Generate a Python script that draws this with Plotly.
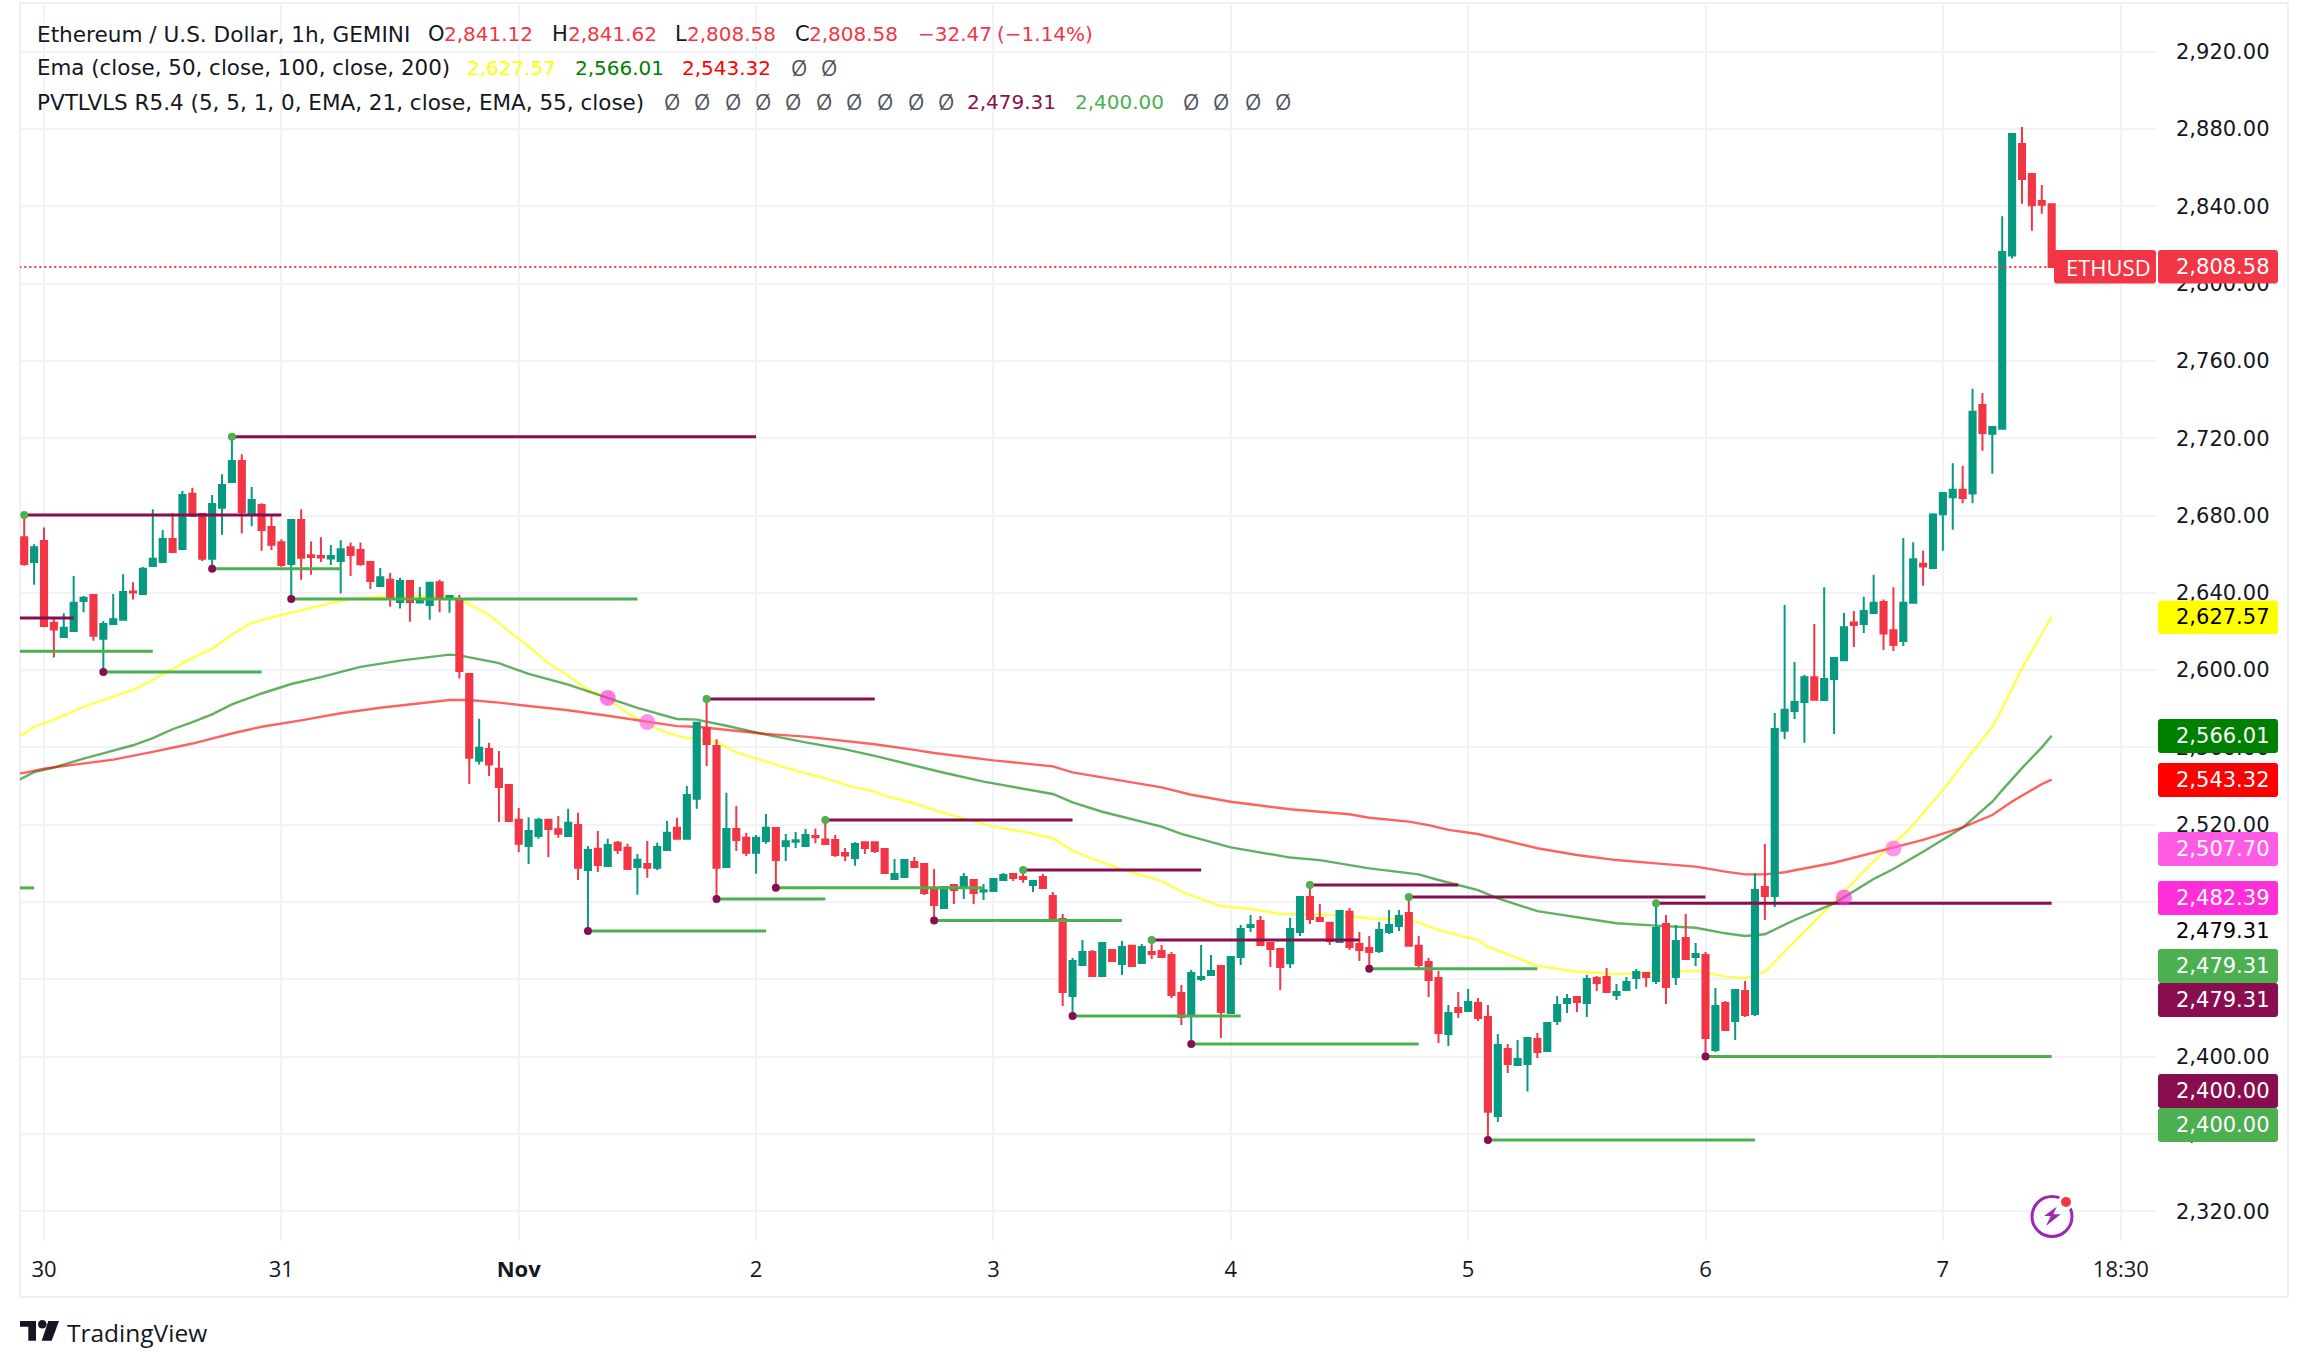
import pandas as pd
import plotly.graph_objects as go

W, H = 2308, 1367
PLOT_L, PLOT_R, PLOT_T, PLOT_B = 20, 2156, 5, 1241

# hourly bars, first one is 29 Oct 22:00, last one 7 Nov 11:00
opens = [
    2668.8, 2655.9, 2666.8, 2624.5, 2617.1, 2620.2, 2635.7, 2638.9, 2616.2, 2623.9,
    2626.0, 2640.7, 2639.4, 2653.9, 2655.9, 2667.9, 2662.7, 2691.2, 2680.8, 2657.6,
    2684.0, 2697.3, 2708.2, 2680.3, 2685.5, 2674.0, 2666.2, 2654.9, 2677.7, 2659.4,
    2659.0, 2657.7, 2656.4, 2663.6, 2662.2, 2655.9, 2643.5, 2646.7, 2635.2, 2646.1,
    2635.0, 2633.7, 2645.5, 2637.6, 2636.8, 2598.0, 2553.1, 2559.2, 2548.9, 2540.6,
    2522.5, 2509.0, 2514.1, 2522.5, 2517.7, 2514.1, 2519.9, 2496.6, 2507.5, 2498.6,
    2510.6, 2508.1, 2498.1, 2499.7, 2497.7, 2506.9, 2518.4, 2512.7, 2533.4, 2570.1,
    2560.7, 2498.1, 2517.8, 2513.2, 2505.5, 2511.6, 2518.3, 2509.0, 2511.2, 2509.0,
    2514.2, 2512.4, 2512.1, 2505.4, 2502.8, 2510.9, 2510.9, 2507.4, 2491.9, 2493.0,
    2500.7, 2499.7, 2487.3, 2476.9, 2488.8, 2488.3, 2491.4, 2485.4, 2485.7, 2491.4,
    2494.5, 2493.0, 2488.8, 2493.0, 2483.1, 2471.2, 2431.4, 2447.4, 2454.1, 2441.7,
    2455.2, 2447.9, 2457.3, 2448.5, 2454.1, 2454.7, 2452.6, 2432.9, 2422.1, 2440.2,
    2442.2, 2446.9, 2422.6, 2451.6, 2467.1, 2470.2, 2458.8, 2455.7, 2448.3, 2464.5,
    2482.6, 2471.7, 2469.2, 2459.3, 2474.9, 2458.3, 2456.2, 2454.7, 2464.5, 2467.6,
    2474.3, 2457.3, 2449.0, 2440.7, 2411.7, 2425.2, 2423.6, 2427.8, 2420.5, 2369.3,
    2403.9, 2395.7, 2396.2, 2409.1, 2402.9, 2418.4, 2427.8, 2430.9, 2427.8, 2440.7,
    2441.2, 2431.9, 2434.5, 2440.7, 2443.3, 2439.1, 2468.6, 2441.2, 2461.4, 2451.6,
    2452.6, 2403.4, 2427.8, 2418.4, 2434.0, 2422.1, 2487.8, 2483.1, 2568.6, 2578.8,
    2583.5, 2596.3, 2584.5, 2595.4, 2605.1, 2624.6, 2623.9, 2629.6, 2635.3, 2620.6,
    2615.1, 2634.8, 2655.0, 2652.9, 2680.7, 2689.5, 2693.3, 2691.4, 2737.2, 2722.3,
    2724.9, 2814.5, 2872.2, 2856.7, 2842.7, 2841.12,
]
highs = [
    2680.3, 2665.1, 2673.8, 2627.2, 2629.4, 2648.7, 2638.3, 2639.4, 2625.4, 2639.4,
    2649.6, 2645.5, 2653.3, 2683.2, 2672.5, 2681.2, 2692.7, 2694.3, 2681.2, 2690.6,
    2701.3, 2720.8, 2711.7, 2694.7, 2686.4, 2680.6, 2667.7, 2678.0, 2683.2, 2666.6,
    2668.8, 2664.8, 2667.2, 2666.0, 2666.0, 2655.9, 2652.9, 2650.3, 2647.8, 2646.1,
    2643.0, 2645.5, 2646.7, 2638.9, 2638.9, 2598.0, 2574.8, 2562.4, 2558.1, 2540.6,
    2528.7, 2523.9, 2523.6, 2522.5, 2524.5, 2528.2, 2526.2, 2509.0, 2516.7, 2512.7,
    2511.6, 2510.1, 2504.9, 2511.6, 2510.6, 2521.9, 2523.6, 2540.0, 2572.7, 2585.1,
    2564.2, 2536.5, 2529.7, 2515.8, 2514.7, 2525.6, 2518.3, 2515.2, 2516.2, 2517.8,
    2518.1, 2522.5, 2514.7, 2508.0, 2510.9, 2510.9, 2510.9, 2507.4, 2502.3, 2501.7,
    2503.3, 2499.7, 2497.1, 2488.3, 2489.3, 2495.0, 2491.9, 2489.3, 2492.4, 2495.0,
    2494.5, 2496.6, 2491.4, 2494.5, 2485.2, 2473.8, 2451.0, 2460.4, 2455.2, 2459.3,
    2455.2, 2459.8, 2457.8, 2458.3, 2460.4, 2457.8, 2454.1, 2437.1, 2444.8, 2457.8,
    2452.6, 2447.4, 2452.1, 2468.1, 2473.3, 2472.8, 2459.3, 2455.7, 2471.7, 2482.6,
    2488.8, 2479.0, 2469.2, 2475.4, 2476.9, 2464.5, 2462.4, 2469.7, 2475.9, 2475.9,
    2482.6, 2462.4, 2451.0, 2444.3, 2426.7, 2433.4, 2435.0, 2430.3, 2426.7, 2411.7,
    2406.5, 2408.6, 2409.6, 2412.2, 2417.9, 2431.4, 2432.4, 2430.9, 2442.2, 2441.7,
    2445.9, 2437.6, 2441.2, 2445.3, 2443.3, 2479.31, 2473.3, 2468.1, 2473.8, 2458.8,
    2454.1, 2435.5, 2428.8, 2434.5, 2439.1, 2495.0, 2510.0, 2577.8, 2633.7, 2604.2,
    2597.5, 2623.9, 2642.9, 2606.8, 2629.6, 2630.6, 2637.9, 2649.3, 2636.5, 2642.9,
    2668.3, 2666.2, 2661.7, 2681.2, 2691.6, 2707.1, 2705.6, 2745.6, 2743.4, 2725.8,
    2834.9, 2877.7, 2881.0, 2856.7, 2851.0, 2841.62,
]
lows = [
    2654.0, 2644.2, 2622.2, 2606.5, 2616.9, 2620.2, 2630.0, 2615.2, 2599.0, 2623.9,
    2626.0, 2636.5, 2639.4, 2653.9, 2655.9, 2661.1, 2662.7, 2679.2, 2656.4, 2652.4,
    2670.1, 2697.3, 2670.7, 2674.5, 2661.8, 2662.2, 2653.5, 2636.8, 2646.8, 2649.4,
    2655.9, 2654.4, 2639.6, 2648.7, 2654.0, 2642.0, 2643.0, 2632.8, 2631.9, 2625.0,
    2635.0, 2626.0, 2630.0, 2629.7, 2595.6, 2541.1, 2551.1, 2545.2, 2521.4, 2521.4,
    2505.8, 2499.7, 2512.7, 2503.2, 2513.2, 2514.1, 2491.4, 2465.0, 2495.5, 2498.6,
    2504.9, 2497.1, 2483.7, 2492.5, 2496.6, 2506.9, 2512.7, 2512.7, 2528.2, 2550.4,
    2481.6, 2498.1, 2506.4, 2503.8, 2494.6, 2510.1, 2487.4, 2501.2, 2508.0, 2509.0,
    2510.4, 2510.0, 2503.3, 2501.2, 2498.7, 2504.9, 2505.4, 2495.0, 2491.4, 2493.0,
    2498.1, 2483.6, 2470.4, 2476.4, 2479.0, 2481.6, 2479.0, 2481.1, 2485.7, 2491.4,
    2490.9, 2489.9, 2485.2, 2487.3, 2471.2, 2426.2, 2421.0, 2447.4, 2441.7, 2441.7,
    2449.5, 2442.2, 2446.9, 2448.5, 2450.5, 2451.6, 2430.3, 2416.4, 2406.5, 2439.1,
    2442.2, 2409.6, 2422.6, 2447.4, 2464.5, 2457.3, 2446.4, 2434.5, 2445.9, 2462.4,
    2468.6, 2470.2, 2457.8, 2459.3, 2455.2, 2449.5, 2445.4, 2453.6, 2463.5, 2465.0,
    2457.3, 2445.9, 2430.9, 2407.1, 2405.5, 2420.0, 2423.6, 2418.4, 2356.9, 2366.2,
    2391.5, 2395.7, 2381.9, 2399.3, 2402.9, 2416.4, 2422.6, 2423.1, 2420.5, 2434.0,
    2433.4, 2429.3, 2434.5, 2435.0, 2436.0, 2437.6, 2427.2, 2437.1, 2450.5, 2446.9,
    2400.0, 2402.4, 2413.8, 2408.6, 2420.5, 2421.0, 2470.7, 2477.4, 2564.3, 2574.7,
    2562.4, 2584.7, 2584.5, 2566.9, 2604.7, 2612.0, 2619.2, 2629.6, 2610.4, 2609.9,
    2612.5, 2634.8, 2643.6, 2652.9, 2661.7, 2672.6, 2686.4, 2686.4, 2713.5, 2701.6,
    2724.9, 2813.0, 2841.3, 2827.3, 2836.1, 2808.58,
]
closes = [
    2654.9, 2663.6, 2622.8, 2621.0, 2621.9, 2634.8, 2637.4, 2617.8, 2623.9, 2626.3,
    2640.4, 2640.2, 2652.4, 2657.6, 2667.9, 2661.1, 2690.6, 2679.9, 2657.6, 2686.0,
    2695.8, 2708.2, 2681.8, 2688.0, 2672.5, 2664.9, 2654.4, 2677.7, 2658.1, 2658.5,
    2658.3, 2659.0, 2662.5, 2659.6, 2654.9, 2646.1, 2648.1, 2637.8, 2646.1, 2635.2,
    2635.7, 2645.2, 2637.4, 2638.3, 2599.5, 2554.6, 2559.8, 2551.1, 2539.5, 2521.9,
    2510.1, 2516.7, 2522.5, 2517.8, 2515.3, 2521.0, 2497.7, 2506.9, 2499.2, 2509.5,
    2506.9, 2497.1, 2501.8, 2497.7, 2508.4, 2515.8, 2512.7, 2535.4, 2572.7, 2561.8,
    2497.7, 2517.8, 2512.1, 2505.5, 2513.2, 2518.4, 2501.7, 2511.4, 2511.9, 2514.7,
    2513.5, 2510.0, 2504.3, 2504.0, 2510.0, 2508.0, 2506.4, 2495.0, 2494.5, 2501.7,
    2498.1, 2484.7, 2478.5, 2487.8, 2486.2, 2493.0, 2484.7, 2486.1, 2491.9, 2494.0,
    2492.4, 2491.9, 2490.9, 2487.3, 2471.2, 2433.4, 2449.5, 2454.1, 2441.7, 2458.8,
    2449.5, 2456.7, 2446.9, 2456.7, 2453.1, 2451.6, 2431.9, 2420.5, 2443.3, 2441.2,
    2444.3, 2423.1, 2451.6, 2466.0, 2468.1, 2457.8, 2455.7, 2446.4, 2466.0, 2482.6,
    2471.2, 2470.2, 2459.8, 2475.4, 2456.7, 2455.2, 2454.1, 2465.5, 2468.1, 2472.8,
    2457.3, 2447.4, 2439.7, 2412.2, 2422.6, 2423.1, 2428.3, 2420.0, 2371.4, 2406.0,
    2396.2, 2398.8, 2409.6, 2402.4, 2417.4, 2426.7, 2429.8, 2428.3, 2440.2, 2438.1,
    2433.4, 2433.4, 2438.6, 2443.8, 2441.2, 2466.6, 2436.0, 2459.8, 2450.5, 2453.1,
    2409.6, 2426.2, 2413.8, 2434.5, 2421.5, 2486.2, 2483.1, 2569.5, 2579.5, 2583.5,
    2596.3, 2584.7, 2595.4, 2606.3, 2622.2, 2623.4, 2630.6, 2634.8, 2618.9, 2613.0,
    2634.8, 2657.4, 2653.6, 2680.5, 2691.6, 2693.3, 2689.0, 2733.7, 2722.7, 2725.8,
    2816.4, 2877.4, 2854.1, 2840.6, 2840.8, 2808.58,
]

# moving averages, hour offsets counted from 30 Oct 00:00
ema50_hours = [-3, -2, -1, 1, 4, 7, 9, 11, 13, 15, 17, 19, 21, 24, 28, 31, 35, 41, 42, 45, 47, 49, 51, 53, 55,
               57, 59, 61, 63, 65, 66, 68, 70, 73, 76, 79, 82, 84, 85, 88, 90, 93, 96, 99, 102, 104, 106,
               109, 113, 115, 119, 122, 125, 128, 132, 134, 137, 139, 141, 145, 146, 151, 155, 159, 163,
               167, 170, 172, 174, 176, 178, 181, 183, 185, 187, 188, 189, 190, 191, 192, 194, 197, 198,
               200, 202, 203]
ema50 = [2564.5, 2567.2, 2570.7, 2574.4, 2581.0, 2586.4, 2589.7, 2594.9, 2600.8, 2606.3, 2611.0, 2618.4, 2624.4,
         2628.5, 2633.5, 2636.8, 2638.5, 2638.5, 2636.8, 2628.5, 2620.2, 2612.2, 2603.6, 2597.1, 2589.7,
         2585.6, 2577.7, 2572.2, 2567.5, 2564.8, 2564.6, 2562.9, 2557.4, 2552.7, 2548.0, 2544.0, 2539.3,
         2537.1, 2534.9, 2531.1, 2527.6, 2523.3, 2519.0, 2516.4, 2513.0, 2506.6, 2502.3, 2496.9, 2490.9,
         2485.3, 2477.9, 2476.4, 2473.8, 2473.6, 2472.9, 2471.5, 2471.2, 2469.5, 2465.5, 2460.3, 2456.9,
         2447.0, 2443.9, 2442.7, 2443.6, 2444.6, 2441.4, 2440.5, 2443.9, 2454.3, 2464.7, 2480.2, 2490.5,
         2500.9, 2510.4, 2514.7, 2520.0, 2526.0, 2532.0, 2537.9, 2551.2, 2570.7, 2580.2, 2600.9, 2618.7,
         2627.57]
ema100_hours = [-3, -2, -1, 1, 4, 7, 9, 11, 13, 15, 17, 19, 22, 25, 28, 32, 36, 41, 42, 46, 49, 53, 57, 60, 64,
                66, 69, 73, 77, 81, 84, 87, 91, 95, 98, 102, 104, 107, 113, 115, 120, 126, 129, 134, 139,
                141, 145, 147, 151, 155, 159, 163, 167, 170, 172, 174, 177, 181, 185, 187, 190, 194, 197,
                198, 200, 202, 203]
ema100 = [2542.0, 2544.4, 2547.2, 2549.6, 2554.2, 2558.3, 2561.1, 2564.8, 2569.4, 2573.1, 2577.1, 2582.3, 2587.9,
          2592.8, 2596.4, 2601.7, 2604.9, 2608.0, 2607.6, 2603.6, 2598.0, 2592.5, 2585.6, 2580.5, 2574.7,
          2574.4, 2571.2, 2566.6, 2562.6, 2559.0, 2555.6, 2551.8, 2546.9, 2542.3, 2539.7, 2535.9, 2531.6,
          2526.7, 2519.0, 2515.2, 2508.3, 2503.0, 2501.7, 2497.4, 2494.3, 2491.4, 2486.2, 2481.9, 2475.3,
          2472.1, 2469.0, 2467.8, 2466.7, 2463.8, 2462.4, 2463.3, 2470.7, 2479.3, 2491.9, 2497.1, 2506.0,
          2518.5, 2531.9, 2537.9, 2549.3, 2560.0, 2566.01]
ema200_hours = [-3, -2, 0, 4, 7, 11, 15, 19, 22, 26, 30, 34, 38, 41, 43, 46, 49, 53, 57, 61, 64, 66, 69, 73, 77,
                84, 88, 90, 96, 102, 104, 108, 113, 116, 120, 126, 132, 134, 138, 140, 142, 145, 151, 155,
                159, 163, 167, 170, 172, 174, 176, 181, 185, 187, 190, 194, 197, 199, 200, 202, 203]
ema200 = [2546.2, 2546.8, 2549.0, 2551.8, 2553.7, 2557.7, 2562.0, 2567.2, 2570.7, 2574.0, 2577.7, 2580.5, 2582.7,
          2584.5, 2584.5, 2583.2, 2581.4, 2579.2, 2576.4, 2573.1, 2571.0, 2570.7, 2569.0, 2567.0, 2565.6,
          2561.6, 2558.7, 2557.1, 2553.3, 2550.2, 2547.1, 2543.5, 2539.3, 2535.5, 2531.9, 2528.0, 2525.4,
          2523.6, 2521.6, 2519.8, 2517.3, 2515.2, 2507.8, 2504.3, 2501.7, 2500.0, 2498.3, 2495.7, 2494.3,
          2494.3, 2495.4, 2500.3, 2505.7, 2508.1, 2512.1, 2518.6, 2525.0, 2532.0, 2535.0, 2541.0, 2543.32]

# pivot levels
pivot_high_start = [-3, -2, 19, 67, 79, 99, 112, 128, 138, 163]
pivot_high_end = [3, 24, 72, 84, 104, 117, 133, 143, 168, 203]
pivot_high_level = [2627.0, 2680.3, 2720.8, 2585.1, 2522.4, 2496.6, 2460.3, 2488.8, 2482.6, 2479.31]
pivot_low_start = [-3, -3, 6, 17, 25, 55, 68, 74, 90, 104, 116, 134, 146, 168]
pivot_low_end = [-1, 11, 22, 30, 60, 73, 79, 95, 109, 121, 139, 151, 173, 203]
pivot_low_level = [2487.3, 2609.8, 2599.0, 2652.4, 2636.8, 2465.0, 2481.6, 2487.4, 2470.4, 2421.0, 2406.5,
                   2445.4, 2356.9, 2400.0]

# ema crosses
cross_hours = [57, 61, 182, 187]
cross_values = [2585.6, 2573.1, 2482.39, 2507.70]
cross_colors = ["rgba(255,46,216,0.65)", "rgba(255,91,228,0.65)", "rgba(255,46,216,0.65)", "rgba(255,91,228,0.65)"]

price_ticks = [2320, 2360, 2400, 2440, 2480, 2520, 2560, 2600, 2640, 2680, 2720, 2760, 2800, 2840, 2880, 2920]
date_ticks = ["2024-10-30", "2024-10-31", "2024-11-01", "2024-11-02", "2024-11-03", "2024-11-04",
              "2024-11-05", "2024-11-06", "2024-11-07", "2024-11-07 18:00"]
date_labels = ["30", "31", "<b>Nov</b>", "2", "3", "4", "5", "6", "7", "18:30"]

T0 = pd.Timestamp("2024-10-30")
bar_times = pd.date_range("2024-10-29 22:00", periods=len(closes), freq="h")
X_RANGE = [T0 + pd.Timedelta(hours=-2.427), T0 + pd.Timedelta(hours=213.55)]
Y_RANGE = [2304.58, 2944.17]

TEXT = "#131722"
UP, DOWN = "#089981", "#f23645"
MAROON, LIME = "#880e4f", "#4caf50"
SANS = "Open Sans"
NUM = "DejaVu Sans"
EMPTY = "Ø"


def hours(values):
    return [T0 + pd.Timedelta(hours=v) for v in values]


def fx(px):
    return (px - PLOT_L) / (PLOT_R - PLOT_L)


def fy(py):
    return (PLOT_B - py) / (PLOT_B - PLOT_T)


def segments(starts, ends, levels):
    xs, ys = [], []
    for a, b, lvl in zip(starts, ends, levels):
        xs += hours([a, b]) + [None]
        ys += [lvl, lvl, None]
    return xs, ys


def poly(points):
    return "M " + " L ".join(f"{fx(x):.5f} {fy(y):.5f}" for x, y in points) + " Z"


fig = go.Figure()

# emas sit under the candles, so they stay on the base axes
for name, xs, ys, col in [
    ("EMA 50", ema50_hours, ema50, "rgba(255,255,0,0.7)"),
    ("EMA 100", ema100_hours, ema100, "rgba(0,128,0,0.62)"),
    ("EMA 200", ema200_hours, ema200, "rgba(255,0,0,0.62)"),
]:
    fig.add_trace(go.Scatter(x=hours(xs), y=ys, mode="lines", name=name, line=dict(color=col, width=2.4)))

fig.add_trace(go.Candlestick(
    x=bar_times, open=opens, high=highs, low=lows, close=closes, name="ETHUSD",
    xaxis="x2", yaxis="y2", whiskerwidth=0,
    increasing=dict(line=dict(color=UP, width=2), fillcolor=UP),
    decreasing=dict(line=dict(color=DOWN, width=2), fillcolor=DOWN),
))

# last price
fig.add_trace(go.Scatter(
    x=hours([-3, 203]), y=[closes[-1], closes[-1]], mode="lines", xaxis="x3", yaxis="y3",
    line=dict(color=DOWN, width=2, dash="2px,3px"),
))

xs, ys = segments(pivot_high_start, pivot_high_end, pivot_high_level)
fig.add_trace(go.Scatter(x=xs, y=ys, mode="lines", xaxis="x3", yaxis="y3", line=dict(color=MAROON, width=3)))
xs, ys = segments(pivot_low_start, pivot_low_end, pivot_low_level)
fig.add_trace(go.Scatter(x=xs, y=ys, mode="lines", xaxis="x3", yaxis="y3", line=dict(color=LIME, width=3)))

fig.add_trace(go.Scatter(
    x=hours(pivot_high_start[1:]), y=pivot_high_level[1:], mode="markers", xaxis="x3", yaxis="y3",
    marker=dict(color=LIME, size=8),
))
fig.add_trace(go.Scatter(
    x=hours(pivot_low_start[2:]), y=pivot_low_level[2:], mode="markers", xaxis="x3", yaxis="y3",
    marker=dict(color=MAROON, size=8),
))
fig.add_trace(go.Scatter(
    x=hours(cross_hours), y=cross_values, mode="markers", xaxis="x3", yaxis="y3",
    marker=dict(color=cross_colors, size=16),
))

shapes = [
    dict(type="rect", xref="paper", yref="paper", x0=fx(20), x1=fx(2288), y0=fy(1297), y1=fy(3),
         line=dict(color="#eff0f5", width=2), fillcolor="rgba(0,0,0,0)", layer="below"),
]
annotations = []


def add_text(px, py, text, color=TEXT, font=NUM, size=20, anchor="left"):
    annotations.append(dict(
        x=fx(px), y=fy(py), xref="paper", yref="paper", text=text, showarrow=False, xanchor=anchor,
        yanchor="middle", borderpad=0, font=dict(family=font, size=size, color=color),
    ))


def add_box(x0, x1, y0, y1, fill, r=3):
    # small rounded corners like the scale labels
    path = (f"M {fx(x0 + r):.5f} {fy(y0):.5f} L {fx(x1 - r):.5f} {fy(y0):.5f} "
            f"Q {fx(x1):.5f} {fy(y0):.5f} {fx(x1):.5f} {fy(y0 + r):.5f} "
            f"L {fx(x1):.5f} {fy(y1 - r):.5f} Q {fx(x1):.5f} {fy(y1):.5f} {fx(x1 - r):.5f} {fy(y1):.5f} "
            f"L {fx(x0 + r):.5f} {fy(y1):.5f} Q {fx(x0):.5f} {fy(y1):.5f} {fx(x0):.5f} {fy(y1 - r):.5f} "
            f"L {fx(x0):.5f} {fy(y0 + r):.5f} Q {fx(x0):.5f} {fy(y0):.5f} {fx(x0 + r):.5f} {fy(y0):.5f} Z")
    shapes.append(dict(type="path", xref="paper", yref="paper", path=path,
                       line=dict(width=0), fillcolor=fill, layer="above"))


# price boxes on the right scale
add_box(2054, 2156, 250, 283.6, DOWN)
add_text(2065, 267, "ETHUSD", "#ffffff", SANS, 22)
for y0, y1, fill, ink, label in [
    (250, 283.6, DOWN, "#ffffff", "2,808.58"),
    (600.5, 634, "#ffff00", "#000000", "2,627.57"),
    (719, 753, "#008000", "#ffffff", "2,566.01"),
    (763, 797, "#ff0000", "#ffffff", "2,543.32"),
    (832, 866, "#ff5be4", "#ffffff", "2,507.70"),
    (881, 915, "#ff2ed8", "#ffffff", "2,482.39"),
    (949, 983, LIME, "#ffffff", "2,479.31"),
    (983, 1017, MAROON, "#ffffff", "2,479.31"),
    (1074, 1108, MAROON, "#ffffff", "2,400.00"),
    (1108, 1142, LIME, "#ffffff", "2,400.00"),
]:
    add_box(2158, 2278, y0, y1, fill)
    add_text(2175, (y0 + y1) / 2, label, ink, NUM, 21)
add_text(2175, 931, "2,479.31", "#000000", NUM, 21)

# legend lines at the top left
add_text(36, 34, "Ethereum / U.S. Dollar, 1h, GEMINI", size=21.6)
for px, txt in [(427, "O"), (551, "H"), (674, "L"), (794, "C")]:
    add_text(px, 34, txt, size=21)
for px, txt in [(443, "2,841.12"), (567, "2,841.62"), (686, "2,808.58"), (808, "2,808.58"),
                (917, "−32.47"), (996, "(−1.14%)")]:
    add_text(px, 34, txt, DOWN)
add_text(36, 68, "Ema (close, 50, close, 100, close, 200)", size=21.4)
add_text(466, 68, "2,627.57", "#ffff00")
add_text(574, 68, "2,566.01", "#008000")
add_text(681, 68, "2,543.32", "#ff0000")
for px in [790, 820]:
    add_text(px, 68, EMPTY, "#50535e", SANS, 21)
add_text(36, 102, "PVTLVLS R5.4 (5, 5, 1, 0, EMA, 21, close, EMA, 55, close)", size=21.5)
for px in [663, 693, 724, 754, 784, 815, 845, 876, 907, 937, 1182, 1212, 1244, 1274]:
    add_text(px, 102, EMPTY, "#50535e", SANS, 21)
add_text(966, 102, "2,479.31", MAROON)
add_text(1074, 102, "2,400.00", LIME)

# TradingView logo
shapes.append(dict(type="path", xref="paper", yref="paper", fillcolor=TEXT, line=dict(width=0), layer="above",
                   path=poly([(20, 1321), (36, 1321), (36, 1340.7), (28.3, 1340.7), (28.3, 1326.7), (20, 1326.7)])))
shapes.append(dict(type="circle", xref="paper", yref="paper", fillcolor=TEXT, line=dict(width=0), layer="above",
                   x0=fx(38), x1=fx(46.6), y0=fy(1328.6), y1=fy(1320)))
shapes.append(dict(type="path", xref="paper", yref="paper", fillcolor=TEXT, line=dict(width=0), layer="above",
                   path=poly([(48.3, 1321), (59, 1321), (51.7, 1340.7), (41.7, 1340.7)])))
add_text(66, 1332, "TradingView", TEXT, SANS, 24.5)

# bolt badge
shapes.append(dict(type="circle", xref="paper", yref="paper", fillcolor="rgba(0,0,0,0)", layer="above",
                   line=dict(color="#9c27b0", width=3), x0=fx(2032), x1=fx(2072), y0=fy(1236.5), y1=fy(1196.5)))
shapes.append(dict(type="circle", xref="paper", yref="paper", fillcolor="#ffffff", line=dict(width=0), layer="above",
                   x0=fx(2058), x1=fx(2074), y0=fy(1210), y1=fy(1194)))
shapes.append(dict(type="circle", xref="paper", yref="paper", fillcolor=DOWN, line=dict(width=0), layer="above",
                   x0=fx(2061), x1=fx(2071), y0=fy(1207), y1=fy(1197)))
shapes.append(dict(type="path", xref="paper", yref="paper", fillcolor="#9c27b0", line=dict(width=0), layer="above",
                   path=poly([(2056.7, 1206.7), (2044, 1216), (2050.7, 1216), (2046, 1226), (2060.7, 1214.3), (2053.3, 1214.3)])))

overlay_x = dict(overlaying="x", range=X_RANGE, type="date", visible=False, rangeslider=dict(visible=False))
overlay_y = dict(range=Y_RANGE, visible=False, side="right")

fig.update_layout(
    width=W, height=H, autosize=False, showlegend=False,
    margin=dict(l=PLOT_L, r=W - PLOT_R, t=PLOT_T, b=H - PLOT_B, pad=0),
    paper_bgcolor="#ffffff", plot_bgcolor="#ffffff",
    boxgap=0.38, boxgroupgap=0,
    xaxis=dict(range=X_RANGE, type="date", tickmode="array", tickvals=date_ticks, ticktext=date_labels,
               tickfont=dict(family=SANS, size=22, color=TEXT), gridcolor="#f2f3f6", gridwidth=2,
               showline=False, zeroline=False, ticks="", ticklabelstandoff=13, rangeslider=dict(visible=False)),
    yaxis=dict(range=Y_RANGE, side="right", tickmode="array", tickvals=price_ticks,
               ticktext=[f"{v:,.2f}" for v in price_ticks],
               tickfont=dict(family=NUM, size=21, color=TEXT), gridcolor="#f2f3f6", gridwidth=2,
               showline=False, zeroline=False, ticks="", ticklabelstandoff=19),
    xaxis2=overlay_x,
    yaxis2=dict(overlay_y, overlaying="y"),
    xaxis3=overlay_x,
    yaxis3=dict(overlay_y, overlaying="y"),
    shapes=shapes,
    annotations=annotations,
    hovermode=False,
)

fig.write_html("out.html", config=dict(displayModeBar=False),
               post_script="document.body.style.margin='0';document.body.style.overflow='hidden';")
